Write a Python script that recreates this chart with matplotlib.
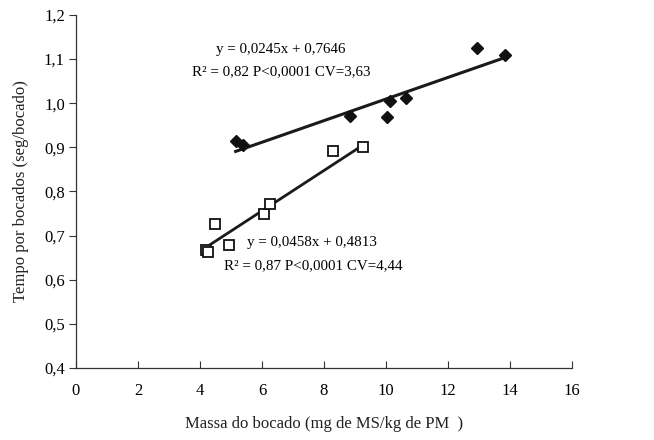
import matplotlib.pyplot as plt
from matplotlib.ticker import FuncFormatter

# Dados
massa_losango = [5.15, 5.4, 8.85, 10.03, 10.12, 10.63, 12.93, 13.83]
tempo_losango = [0.915, 0.905, 0.972, 0.968, 1.005, 1.012, 1.125, 1.11]
massa_quadrado = [4.2, 4.25, 4.49, 4.92, 6.07, 6.25, 8.28, 9.25]
tempo_quadrado = [0.668, 0.663, 0.727, 0.678, 0.750, 0.771, 0.891, 0.901]

# Retas de regressao (coeficientes das equacoes)
a1, b1 = 0.0245, 0.7646
a2, b2 = 0.0458, 0.4813

plt.rcParams['font.family'] = ['Liberation Serif', 'DejaVu Serif']

fig = plt.figure(figsize=(6.54, 4.40), dpi=100)
ax = fig.add_axes([0.116, 0.1636, 0.759, 0.8024])

x1 = [min(massa_losango), max(massa_losango)]
ax.plot(x1, [a1 * x + b1 for x in x1], color='#1a1a1a', lw=2.2, zorder=2)
x2 = [min(massa_quadrado), max(massa_quadrado)]
ax.plot(x2, [a2 * x + b2 for x in x2], color='#1a1a1a', lw=2.0, zorder=2)

ax.plot(massa_losango, tempo_losango, 'D', color='#111111', ms=6.5, ls='none', zorder=3)
ax.plot(massa_quadrado, tempo_quadrado, 's', mfc='white', mec='#111111', mew=1.3,
        ms=7.5, ls='none', zorder=3)

ax.text(4.52, 1.121, 'y = 0,0245x + 0,7646', fontsize=10.8, ha='left', va='center')
ax.text(3.74, 1.072, 'R² = 0,82 P<0,0001 CV=3,63', fontsize=10.8, ha='left', va='center')
ax.text(5.52, 0.684, 'y = 0,0458x + 0,4813', fontsize=10.8, ha='left', va='center')
ax.text(4.77, 0.633, 'R² = 0,87 P<0,0001 CV=4,44', fontsize=10.8, ha='left', va='center')

ax.set_xlim(0, 16)
ax.set_ylim(0.4, 1.2)
ax.set_xticks(range(0, 17, 2))
ax.set_yticks([0.4, 0.5, 0.6, 0.7, 0.8, 0.9, 1.0, 1.1, 1.2])
ax.yaxis.set_major_formatter(FuncFormatter(lambda v, p: f'{v:.1f}'.replace('.', ',')))
ax.tick_params(axis='x', direction='in', length=5, labelsize=12, pad=11, color='#333333')
ax.tick_params(axis='y', direction='out', length=5, labelsize=12, pad=3, color='#333333')

for s in ['top', 'right']:
    ax.spines[s].set_visible(False)
for s in ['left', 'bottom']:
    ax.spines[s].set_color('#333333')
    ax.spines[s].set_linewidth(0.9)

ax.set_xlabel('Massa do bocado (mg de MS/kg de PM  )', fontsize=12, color='#222222')
ax.xaxis.set_label_coords(0.5, -0.135)
ax.set_ylabel('Tempo por bocados (seg/bocado)', fontsize=12, color='#222222')
ax.yaxis.set_label_coords(-0.095, 0.5)

fig.savefig('out.png', dpi=100)
